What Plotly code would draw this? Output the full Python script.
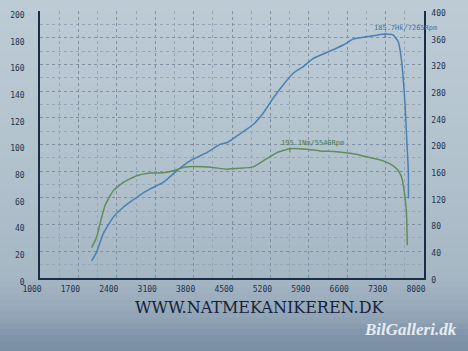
import plotly.graph_objects as go

# ---- data ----
rpm_power = [1942, 2034, 2154, 2336, 2518, 2763, 3005, 3248, 3492, 3734, 4039, 4281,
             4403, 4586, 4888, 5071, 5253, 5435, 5617, 5800, 5982, 6286, 6529, 6711,
             6955, 7138, 7289, 7440, 7531, 7593, 7654, 7684, 7714, 7717]
power_hk = [12.9, 19.6, 33.2, 45.6, 53.0, 60.4, 66.7, 71.6, 80.3, 87.7, 93.9, 100.1,
            101.3, 106.3, 115.0, 123.6, 134.8, 144.8, 153.4, 158.4, 164.5, 170.0, 174.5, 179.0,
            180.7, 181.9, 182.7, 181.9, 177.0, 162.1, 130.1, 105.1, 80.3, 59.5]

rpm_torque = [1942, 2034, 2094, 2185, 2336, 2518, 2763, 3005, 3248, 3430, 3612, 3795,
              4159, 4403, 4888, 5071, 5315, 5557, 5862, 6104, 6408, 6711, 7015, 7258,
              7440, 7531, 7593, 7654, 7684, 7695]
torque_nm = [45.6, 61.4, 81.3, 108.6, 130.9, 143.2, 153.2, 157.2, 157.6, 160.6, 165.5, 167.0,
             165.5, 163.1, 166.5, 175.5, 187.8, 193.8, 192.9, 190.3, 189.3, 186.3, 180.4, 175.5,
             168.0, 160.6, 150.6, 120.9, 91.2, 49.1]

x_ticks = [1000, 1700, 2400, 3100, 3800, 4500, 5200, 5900, 6600, 7300, 8000]
left_ticks = list(range(0, 201, 20))
right_ticks = list(range(0, 401, 40))
power_label = "185.7Hk/7265Rpm"
torque_label = "195.1Nm/5546Rpm"
site_text = "WWW.NATMEKANIKEREN.DK"
watermark = "BilGalleri.dk"

W, H = 468, 351
ML, MR, MT, MB = 40, 44, 9, 73
PW, PH = W - ML - MR, H - MT - MB


def px_x(x):
    return (x - ML) / PW


def px_y(y):
    return (H - MB - y) / PH


def hex2rgb(h):
    h = h.lstrip("#")
    return [int(h[i:i + 2], 16) for i in (0, 2, 4)]


BLUE = "#4a80b6"
GREEN = "#5f8d5b"
AXIS = "#1b2c45"
TICKFONT = dict(family="DejaVu Sans Mono", size=8, color="#22344f")

fig = go.Figure()
fig.add_trace(go.Scatter(x=rpm_power, y=power_hk, mode="lines",
                         line=dict(color=BLUE, width=1.5, shape="spline", smoothing=0.4),
                         yaxis="y", showlegend=False))
fig.add_trace(go.Scatter(x=rpm_torque, y=torque_nm, mode="lines",
                         line=dict(color=GREEN, width=1.5, shape="spline", smoothing=0.4),
                         yaxis="y2", showlegend=False))

# peaks derived from data
ip = power_hk.index(max(power_hk))
it = torque_nm.index(max(torque_nm))
px_, py_ = rpm_power[ip], power_hk[ip]
tx_, ty_ = rpm_torque[it], torque_nm[it]

shapes = []
# background gradient of the photo (style only), stops in window pixels
stops = [(0, "#bdcbd5"), (150, "#b3c3ce"), (270, "#a7b8c5"), (295, "#9eb0bf"),
         (322, "#8ea1b3"), (334, "#8196aa"), (351, "#7a8fa4")]
step = 6
y = 0
while y < H:
    yc = y + step / 2
    for (a, ca), (b, cb) in zip(stops[:-1], stops[1:]):
        if a <= yc <= b:
            t = (yc - a) / (b - a)
            r1, r2 = hex2rgb(ca), hex2rgb(cb)
            col = "rgb(%d,%d,%d)" % tuple(round(p + (q - p) * t) for p, q in zip(r1, r2))
            break
    shapes.append(dict(type="rect", xref="paper", yref="paper", x0=px_x(-5), x1=px_x(W + 5),
                       y0=px_y(min(y + step, H) + (5 if y + step >= H else 0)),
                       y1=px_y(y - (5 if y == 0 else 0) - 0.5),
                       fillcolor=col, line=dict(width=0), layer="below"))
    y += step
# peak tick marks
shapes.append(dict(type="line", xref="x", yref="y", x0=px_, x1=px_, y0=py_ - 3, y1=py_ + 1,
                   line=dict(color=BLUE, width=1)))
shapes.append(dict(type="line", xref="x", yref="y2", x0=tx_, x1=tx_, y0=ty_ - 6, y1=ty_ + 2,
                   line=dict(color=GREEN, width=1)))

annotations = [
    dict(x=px_, y=py_, xref="x", yref="y", text=power_label, showarrow=False,
         xanchor="left", yanchor="bottom", xshift=-13, yshift=0,
         font=dict(family="DejaVu Sans Mono", size=7, color="#3f73a6")),
    dict(x=tx_, y=ty_, xref="x", yref="y2", text=torque_label, showarrow=False,
         xanchor="left", yanchor="bottom", xshift=-11, yshift=0,
         font=dict(family="DejaVu Sans Mono", size=7, color="#4f7a4c")),
    dict(x=px_x(259), y=px_y(308), xref="paper", yref="paper", text=site_text,
         showarrow=False, xanchor="center", yanchor="middle",
         font=dict(family="DejaVu Serif", size=16, color="#15223a")),
    dict(x=px_x(410), y=px_y(330), xref="paper", yref="paper",
         text="<b><i>" + watermark + "</i></b>",
         showarrow=False, xanchor="center", yanchor="middle",
         font=dict(family="Liberation Sans Narrow", size=17, color="#e6ecf1")),
]

fig.update_layout(
    width=W, height=H,
    margin=dict(l=ML, r=MR, t=MT, b=MB),
    paper_bgcolor="#aebecb",
    plot_bgcolor="rgba(0,0,0,0)",
    shapes=shapes,
    annotations=annotations,
    xaxis=dict(range=[1000, 8000], tickvals=x_ticks, ticktext=[str(v) for v in x_ticks],
               showline=True, linecolor=AXIS, linewidth=1.5, ticks="",
               showgrid=True, gridcolor="#7e90a2", griddash="dot", gridwidth=1,
               minor=dict(dtick=350, tick0=1000, showgrid=True, gridcolor="#95a6b5",
                          griddash="dot", gridwidth=1),
               zeroline=False, tickfont=TICKFONT, ticklabelshift=-8, ticklabelstandoff=3),
    yaxis=dict(range=[0, 200], tickvals=left_ticks, showline=True, linecolor=AXIS, linewidth=1.5,
               ticks="", showgrid=True, gridcolor="#7e90a2", griddash="dot", gridwidth=1,
               minor=dict(dtick=10, tick0=0, showgrid=True, gridcolor="#95a6b5",
                          griddash="dot", gridwidth=1),
               zeroline=False, tickfont=TICKFONT, ticklabelshift=4, ticklabelstandoff=12),
    yaxis2=dict(range=[0, 400], tickvals=right_ticks, overlaying="y", side="right",
                showline=True, linecolor=AXIS, linewidth=1.5, ticks="", showgrid=False,
                zeroline=False, tickfont=TICKFONT, ticklabelshift=2, ticklabelstandoff=4),
)

fig.write_html("out.html")
